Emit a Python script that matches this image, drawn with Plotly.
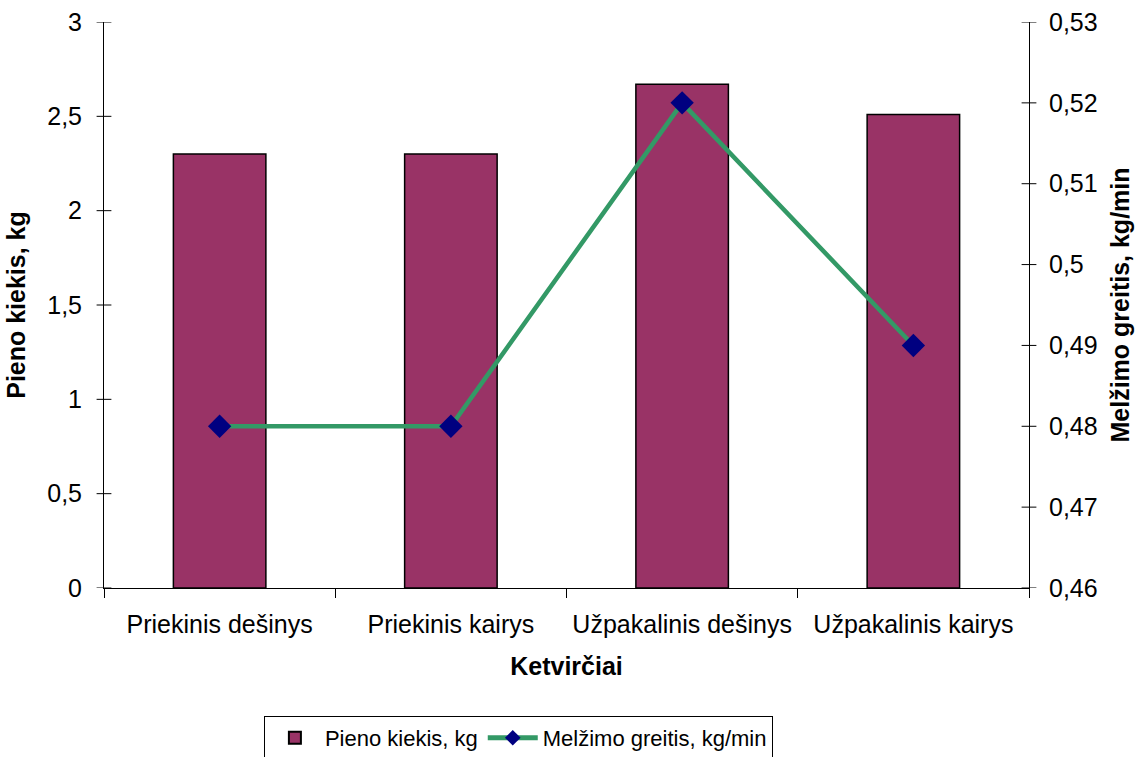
import plotly.graph_objects as go

categories = ["Priekinis dešinys", "Priekinis kairys", "Užpakalinis dešinys", "Užpakalinis kairys"]
milk_amount = [2.3, 2.3, 2.67, 2.51]
milking_speed = [0.48, 0.48, 0.52, 0.49]

left_ticks = [0, 0.5, 1, 1.5, 2, 2.5, 3]
left_labels = ["0", "0,5", "1", "1,5", "2", "2,5", "3"]
right_ticks = [0.46, 0.47, 0.48, 0.49, 0.50, 0.51, 0.52, 0.53]
right_labels = ["0,46", "0,47", "0,48", "0,49", "0,5", "0,51", "0,52", "0,53"]

FONT = "Liberation Sans, Arial, sans-serif"
FS = 25

fig = go.Figure()
fig.add_trace(go.Bar(
    x=categories, y=milk_amount, name="Pieno kiekis, kg",
    marker=dict(color="#993366", line=dict(color="black", width=1.5)),
    yaxis="y",
))
fig.add_trace(go.Scatter(
    x=categories, y=milking_speed, name="Melžimo greitis, kg/min",
    mode="lines+markers",
    line=dict(color="#339966", width=4.5),
    marker=dict(symbol="diamond", size=18, color="#000080"),
    yaxis="y2",
))

# crossing tick marks on both value axes
shapes = []
for v in left_ticks:
    shapes.append(dict(type="line", xref="paper", yref="y", x0=-0.008, x1=0.008,
                       y0=v, y1=v, line=dict(color="black", width=1)))
for v in right_ticks:
    shapes.append(dict(type="line", xref="paper", yref="y2", x0=0.992, x1=1.008,
                       y0=v, y1=v, line=dict(color="black", width=1)))

fig.update_layout(
    width=1143, height=757,
    margin=dict(l=104, r=114, t=22, b=169, autoexpand=False),
    paper_bgcolor="white", plot_bgcolor="white",
    font=dict(family=FONT, size=FS, color="black"),
    bargap=0.6,
    shapes=shapes,
    xaxis=dict(
        title=dict(text="<b>Ketvirčiai</b>", font=dict(size=FS), standoff=20),
        showline=True, linecolor="black", linewidth=1,
        ticks="outside", ticklen=9, tickcolor="black", tickson="boundaries",
        showgrid=False, tickfont=dict(size=FS), ticklabelstandoff=14,
        automargin=False,
    ),
    yaxis=dict(
        title=dict(text="<b>Pieno kiekis, kg</b>", font=dict(size=FS), standoff=14),
        range=[0, 3], tickvals=left_ticks, ticktext=left_labels,
        showline=True, linecolor="black", linewidth=1,
        ticks="", showgrid=False, zeroline=False, ticklabelstandoff=16,
        tickfont=dict(size=FS), automargin=False,
    ),
    yaxis2=dict(
        title=dict(text="<b>Melžimo greitis, kg/min</b>", font=dict(size=FS), standoff=14),
        range=[0.46, 0.53], tickvals=right_ticks, ticktext=right_labels,
        overlaying="y", side="right",
        showline=True, linecolor="black", linewidth=1,
        ticks="", showgrid=False, zeroline=False, ticklabelstandoff=14,
        tickfont=dict(size=FS), automargin=False,
    ),
    legend=dict(
        orientation="h", x=0.448, xanchor="center", y=-0.226, yanchor="top",
        bordercolor="black", borderwidth=1, font=dict(size=22),
        itemsizing="constant", itemwidth=50, tracegroupgap=0,
    ),
    showlegend=True,
)

fig.write_html("out.html")
